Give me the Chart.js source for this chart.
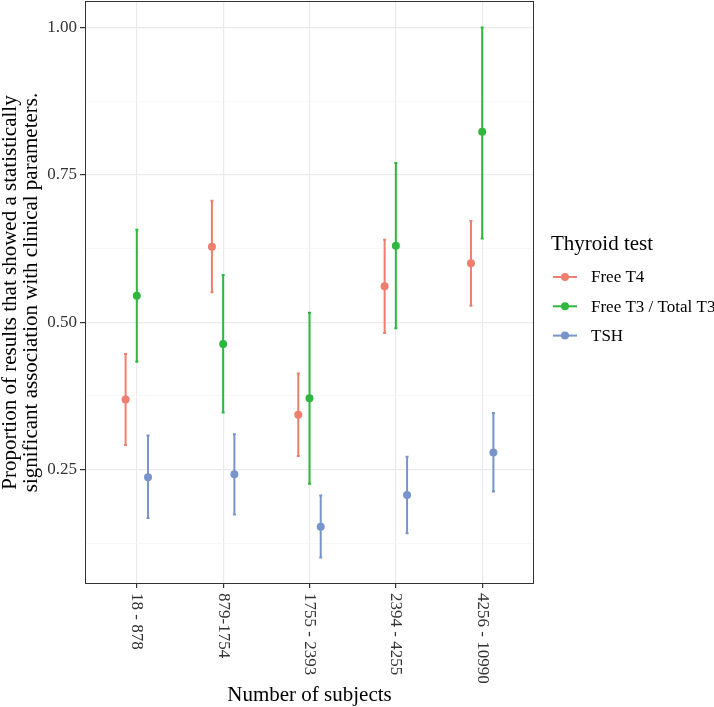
<!DOCTYPE html>
<html>
<head>
<meta charset="utf-8">
<script src="https://cdn.jsdelivr.net/npm/chart.js@4"></script>
<style>
  body { margin: 0; background: #fff; }
  #wrap { width: 714px; height: 707px; }
</style>
</head>
<body>
<div id="wrap"><canvas id="thyroidChart" width="714" height="707"></canvas></div>
<script>
const categories = ['18 - 878', '879-1754', '1755 - 2393', '2394 - 4255', '4256 - 10990'];
const seriesNames = ['Free T4', 'Free T3 / Total T3', 'TSH'];

const freeT4 = [0.369, 0.628, 0.343, 0.561, 0.600];
const freeT4Lo = [0.292, 0.551, 0.273, 0.482, 0.528];
const freeT4Hi = [0.446, 0.706, 0.413, 0.640, 0.672];

const freeT3 = [0.545, 0.463, 0.371, 0.630, 0.823];
const freeT3Lo = [0.433, 0.347, 0.226, 0.490, 0.642];
const freeT3Hi = [0.657, 0.580, 0.516, 0.770, 1.000];

const tsh = [0.237, 0.242, 0.153, 0.207, 0.279];
const tshLo = [0.168, 0.174, 0.101, 0.142, 0.213];
const tshHi = [0.308, 0.310, 0.206, 0.272, 0.346];

const yTicks = [0.125, 0.25, 0.375, 0.5, 0.625, 0.75, 0.875, 1.0];

const colors = ['#F07E6E', '#2DB83D', '#7895CB'];
const dodge = [-0.13, 0, 0.13];
const serif = '"Liberation Serif", "DejaVu Serif", serif';

function isMajor(v) {
    return Math.abs(v * 4 - Math.round(v * 4)) < 1e-6;
}

function makeSet(idx, vals, lo, hi) {
    return {
        label: seriesNames[idx],
        data: vals.map((v, i) => ({ x: i + 1 + dodge[idx], y: v, lo: lo[i], hi: hi[i] })),
        backgroundColor: colors[idx],
        borderColor: colors[idx],
        pointRadius: 4,
        pointHoverRadius: 4,
        borderWidth: 0,
    };
}

// error bars, panel border, rotated x labels and the legend
const extras = {
    id: 'extras',
    beforeDatasetsDraw(chart) {
        const ctx = chart.ctx;
        const xs = chart.scales.x, ys = chart.scales.y;
        ctx.save();
        chart.data.datasets.forEach((ds) => {
            ctx.strokeStyle = ds.borderColor;
            ctx.lineWidth = 2;
            ds.data.forEach((p) => {
                const px = xs.getPixelForValue(p.x);
                const top = ys.getPixelForValue(p.hi);
                const bot = ys.getPixelForValue(p.lo);
                ctx.beginPath();
                ctx.moveTo(px, top);
                ctx.lineTo(px, bot);
                ctx.moveTo(px - 1.5, top);
                ctx.lineTo(px + 1.5, top);
                ctx.moveTo(px - 1.5, bot);
                ctx.lineTo(px + 1.5, bot);
                ctx.stroke();
            });
        });
        ctx.restore();
    },
    afterDraw(chart) {
        const ctx = chart.ctx;
        const a = chart.chartArea;
        const xs = chart.scales.x;
        ctx.save();
        ctx.strokeStyle = '#333333';
        ctx.lineWidth = 1;
        ctx.strokeRect(a.left + 0.5, a.top + 0.5, a.right - a.left - 1, a.bottom - a.top - 1);

        // x tick labels, reading top to bottom
        ctx.fillStyle = '#333';
        ctx.font = '17px ' + serif;
        ctx.textAlign = 'left';
        ctx.textBaseline = 'middle';
        categories.forEach((c, i) => {
            const px = xs.getPixelForValue(i + 1);
            ctx.save();
            ctx.translate(px, a.bottom + 9);
            ctx.rotate(Math.PI / 2);
            ctx.fillText(c, 0, 0);
            ctx.restore();
        });

        // x title
        ctx.fillStyle = '#000';
        ctx.font = '21px ' + serif;
        ctx.textAlign = 'center';
        ctx.textBaseline = 'alphabetic';
        ctx.fillText('Number of subjects', (a.left + a.right) / 2, 701);

        // legend
        ctx.textAlign = 'left';
        ctx.fillText('Thyroid test', 551, 250);
        ctx.font = '17px ' + serif;
        ctx.textBaseline = 'middle';
        seriesNames.forEach((name, i) => {
            const y = 277 + i * 29.3;
            ctx.strokeStyle = colors[i];
            ctx.lineWidth = 2;
            ctx.beginPath();
            ctx.moveTo(553, y);
            ctx.lineTo(577, y);
            ctx.stroke();
            ctx.fillStyle = colors[i];
            ctx.beginPath();
            ctx.arc(565, y, 4, 0, Math.PI * 2);
            ctx.fill();
            ctx.fillStyle = '#000';
            ctx.fillText(name, 591, y + 1);
        });
        ctx.restore();
    }
};

const ctx = document.getElementById('thyroidChart').getContext('2d');
const chart = new Chart(ctx, {
    type: 'scatter',
    data: {
        datasets: [
            makeSet(0, freeT4, freeT4Lo, freeT4Hi),
            makeSet(1, freeT3, freeT3Lo, freeT3Hi),
            makeSet(2, tsh, tshLo, tshHi),
        ],
    },
    options: {
        responsive: false,
        animation: false,
        devicePixelRatio: 1,
        layout: { autoPadding: false, padding: { top: 1, right: 180, left: 0, bottom: 0 } },
        plugins: {
            legend: { display: false },
            tooltip: { enabled: false },
        },
        scales: {
            x: {
                type: 'linear',
                min: 0.4,
                max: 5.6,
                afterBuildTicks: (s) => { s.ticks = categories.map((c, i) => ({ value: i + 1 })); },
                afterFit: (s) => { s.height = 123; s.paddingLeft = 0; s.paddingRight = 0; },
                ticks: { callback: () => '', padding: 0 },
                grid: {
                    color: '#EBEBEB',
                    lineWidth: 1.2,
                    tickColor: '#333',
                    tickLength: 4,
                },
                border: { display: false },
            },
            y: {
                min: 0.056,
                max: 1.045,
                afterBuildTicks: (s) => { s.ticks = yTicks.map((v) => ({ value: v })); },
                afterFit: (s) => { s.width = 85; s.paddingTop = 0; s.paddingBottom = 0; },
                ticks: {
                    callback: (v) => (isMajor(v) ? v.toFixed(2) : ''),
                    color: '#333',
                    font: { family: serif, size: 17 },
                    padding: 3,
                },
                grid: {
                    color: (c) => (isMajor(c.tick.value) ? '#EBEBEB' : '#F5F5F5'),
                    lineWidth: (c) => (isMajor(c.tick.value) ? 1.2 : 0.7),
                    tickColor: (c) => (isMajor(c.tick.value) ? '#333' : 'rgba(0,0,0,0)'),
                    tickLength: 5,
                },
                border: { display: false },
                title: {
                    display: true,
                    text: ['Proportion of results that showed a statistically', 'significant association with clinical parameters.'],
                    color: '#000',
                    font: { family: serif, size: 21, lineHeight: 1.0 },
                    padding: { top: 0, bottom: 0 },
                },
            },
        },
    },
    plugins: [extras],
});
</script>
</body>
</html>
